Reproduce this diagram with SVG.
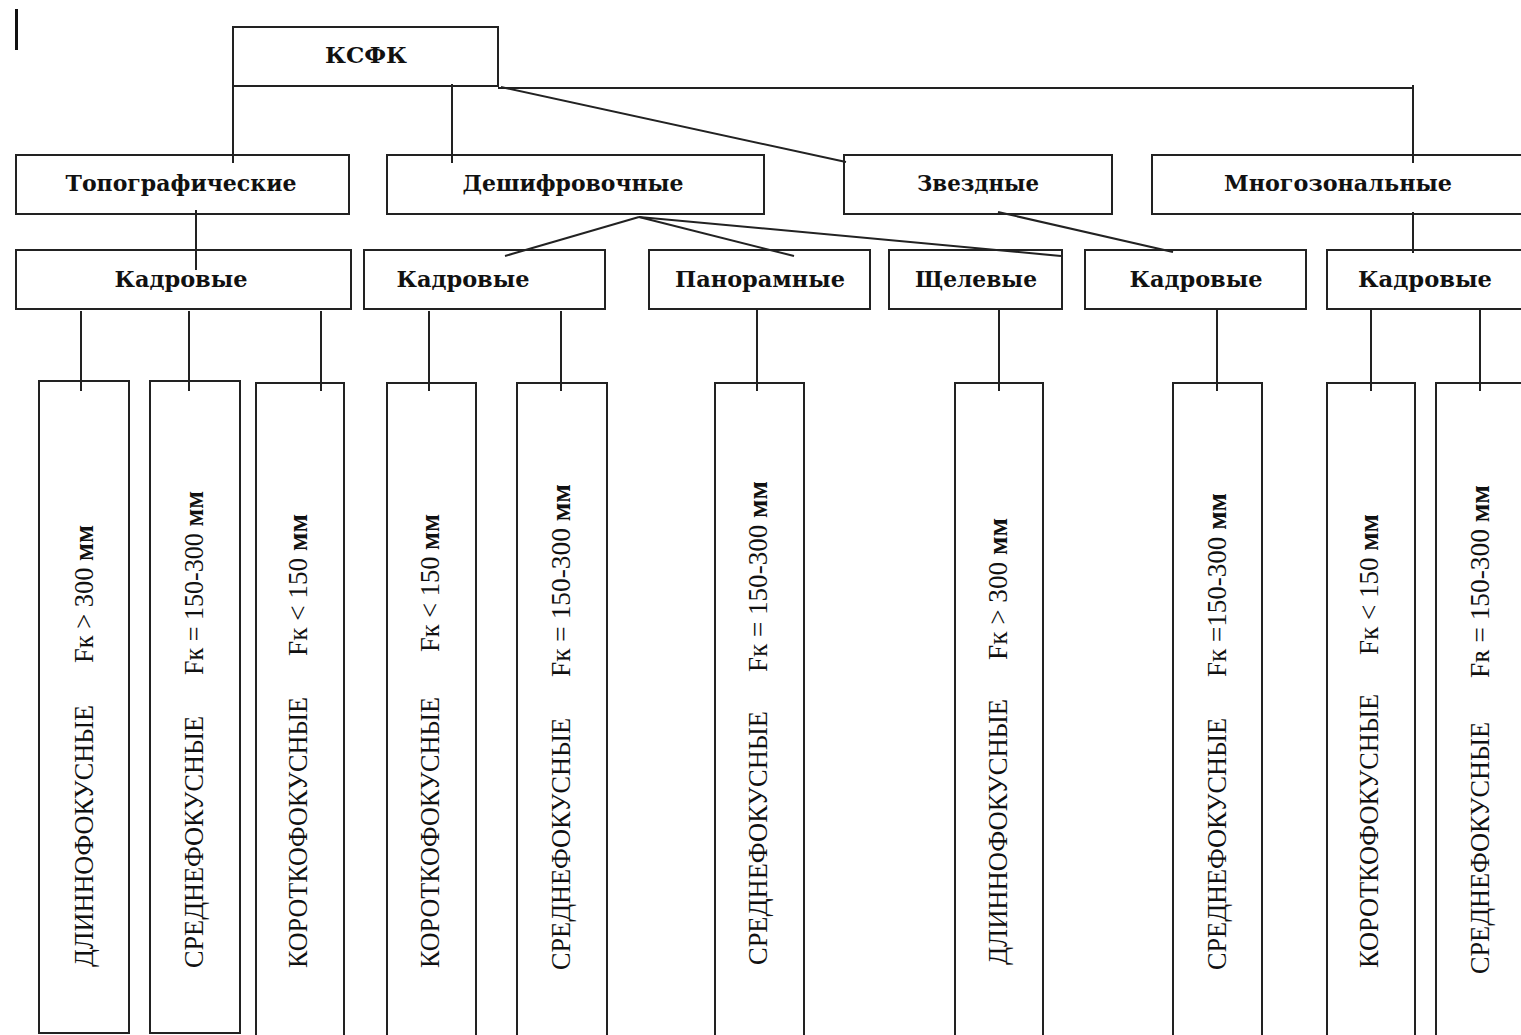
<svg xmlns="http://www.w3.org/2000/svg" width="1521" height="1035" viewBox="0 0 1521 1035">
<style>
.box{fill:#fff;stroke:#222;stroke-width:2}
.ln{stroke:#222;stroke-width:2;fill:none}
.lbl{font-family:"DejaVu Serif","Liberation Serif",serif;font-weight:bold;font-size:23px;fill:#111}
.vt{font-family:"Liberation Serif","Times New Roman",serif;font-size:28px;fill:#111}
.mm{font-weight:bold}
</style>
<rect x="15" y="9" width="3" height="41" fill="#111"/>
<g id="ksfk"><rect class="box" x="233" y="27" width="265" height="59"/><text class="lbl" x="366" y="63" text-anchor="middle" textLength="82" lengthAdjust="spacingAndGlyphs">КСФК</text></g>
<g id="topo"><rect class="box" x="16" y="155" width="333" height="59"/><text class="lbl" x="181" y="191" text-anchor="middle" textLength="231" lengthAdjust="spacingAndGlyphs">Топографические</text></g>
<g id="desh"><rect class="box" x="387" y="155" width="377" height="59"/><text class="lbl" x="573" y="191" text-anchor="middle" textLength="221" lengthAdjust="spacingAndGlyphs">Дешифровочные</text></g>
<g id="zvezd"><rect class="box" x="844" y="155" width="268" height="59"/><text class="lbl" x="978" y="191" text-anchor="middle" textLength="122" lengthAdjust="spacingAndGlyphs">Звездные</text></g>
<g id="mnogo"><rect class="box" x="1152" y="155" width="380" height="59"/><text class="lbl" x="1338" y="191" text-anchor="middle" textLength="228" lengthAdjust="spacingAndGlyphs">Многозональные</text></g>
<g id="kadr1"><rect class="box" x="16" y="250" width="335" height="59"/><text class="lbl" x="181" y="287" text-anchor="middle" textLength="133" lengthAdjust="spacingAndGlyphs">Кадровые</text></g>
<g id="kadr2"><rect class="box" x="364" y="250" width="241" height="59"/><text class="lbl" x="463" y="287" text-anchor="middle" textLength="133" lengthAdjust="spacingAndGlyphs">Кадровые</text></g>
<g id="panor"><rect class="box" x="649" y="250" width="221" height="59"/><text class="lbl" x="760" y="287" text-anchor="middle" textLength="170" lengthAdjust="spacingAndGlyphs">Панорамные</text></g>
<g id="shchel"><rect class="box" x="889" y="250" width="173" height="59"/><text class="lbl" x="976" y="287" text-anchor="middle" textLength="122" lengthAdjust="spacingAndGlyphs">Щелевые</text></g>
<g id="kadr5"><rect class="box" x="1085" y="250" width="221" height="59"/><text class="lbl" x="1196" y="287" text-anchor="middle" textLength="133" lengthAdjust="spacingAndGlyphs">Кадровые</text></g>
<g id="kadr6"><rect class="box" x="1327" y="250" width="205" height="59"/><text class="lbl" x="1425" y="287" text-anchor="middle" textLength="134" lengthAdjust="spacingAndGlyphs">Кадровые</text></g>

<g id="f1"><rect class="box" x="39" y="381" width="90" height="652"/>
<text class="vt" transform="translate(93,967) rotate(-90)" textLength="262" lengthAdjust="spacingAndGlyphs">ДЛИННОФОКУСНЫЕ</text>
<text class="vt" transform="translate(93,663) rotate(-90)" textLength="138" lengthAdjust="spacingAndGlyphs">Fк &gt; 300 <tspan class="mm">мм</tspan></text></g>
<g id="f2"><rect class="box" x="150" y="381" width="90" height="652"/>
<text class="vt" transform="translate(203,968) rotate(-90)" textLength="252" lengthAdjust="spacingAndGlyphs">СРЕДНЕФОКУСНЫЕ</text>
<text class="vt" transform="translate(203,675) rotate(-90)" textLength="184" lengthAdjust="spacingAndGlyphs">Fк = 150-300 <tspan class="mm">мм</tspan></text></g>
<g id="f3"><rect class="box" x="256" y="383" width="88" height="660"/>
<text class="vt" transform="translate(307,968) rotate(-90)" textLength="271" lengthAdjust="spacingAndGlyphs">КОРОТКОФОКУСНЫЕ</text>
<text class="vt" transform="translate(307,656) rotate(-90)" textLength="142" lengthAdjust="spacingAndGlyphs">Fк &lt; 150 <tspan class="mm">мм</tspan></text></g>
<g id="f4"><rect class="box" x="387" y="383" width="89" height="660"/>
<text class="vt" transform="translate(439,968) rotate(-90)" textLength="271" lengthAdjust="spacingAndGlyphs">КОРОТКОФОКУСНЫЕ</text>
<text class="vt" transform="translate(439,652) rotate(-90)" textLength="138" lengthAdjust="spacingAndGlyphs">Fк &lt; 150 <tspan class="mm">мм</tspan></text></g>
<g id="f5"><rect class="box" x="517" y="383" width="90" height="660"/>
<text class="vt" transform="translate(570,970) rotate(-90)" textLength="252" lengthAdjust="spacingAndGlyphs">СРЕДНЕФОКУСНЫЕ</text>
<text class="vt" transform="translate(570,677) rotate(-90)" textLength="193" lengthAdjust="spacingAndGlyphs">Fк = 150-300 <tspan class="mm">мм</tspan></text></g>
<g id="f6"><rect class="box" x="715" y="383" width="89" height="660"/>
<text class="vt" transform="translate(767,965) rotate(-90)" textLength="254" lengthAdjust="spacingAndGlyphs">СРЕДНЕФОКУСНЫЕ</text>
<text class="vt" transform="translate(767,672) rotate(-90)" textLength="191" lengthAdjust="spacingAndGlyphs">Fк = 150-300 <tspan class="mm">мм</tspan></text></g>
<g id="f7"><rect class="box" x="955" y="383" width="88" height="660"/>
<text class="vt" transform="translate(1007,965) rotate(-90)" textLength="266" lengthAdjust="spacingAndGlyphs">ДЛИННОФОКУСНЫЕ</text>
<text class="vt" transform="translate(1007,660) rotate(-90)" textLength="142" lengthAdjust="spacingAndGlyphs">Fк &gt; 300 <tspan class="mm">мм</tspan></text></g>
<g id="f8"><rect class="box" x="1173" y="383" width="89" height="660"/>
<text class="vt" transform="translate(1226,970) rotate(-90)" textLength="252" lengthAdjust="spacingAndGlyphs">СРЕДНЕФОКУСНЫЕ</text>
<text class="vt" transform="translate(1226,677) rotate(-90)" textLength="184" lengthAdjust="spacingAndGlyphs">Fк =150-300 <tspan class="mm">мм</tspan></text></g>
<g id="f9"><rect class="box" x="1327" y="383" width="88" height="660"/>
<text class="vt" transform="translate(1378,968) rotate(-90)" textLength="274" lengthAdjust="spacingAndGlyphs">КОРОТКОФОКУСНЫЕ</text>
<text class="vt" transform="translate(1378,655) rotate(-90)" textLength="141" lengthAdjust="spacingAndGlyphs">Fк &lt; 150 <tspan class="mm">мм</tspan></text></g>
<g id="f10"><rect class="box" x="1436" y="383" width="96" height="660"/>
<text class="vt" transform="translate(1489,974) rotate(-90)" textLength="252" lengthAdjust="spacingAndGlyphs">СРЕДНЕФОКУСНЫЕ</text>
<text class="vt" transform="translate(1489,678) rotate(-90)" textLength="193" lengthAdjust="spacingAndGlyphs">Fʀ = 150-300 <tspan class="mm">мм</tspan></text></g>

<g id="connectors">
<line class="ln" x1="233" y1="86" x2="233" y2="163"/>
<line class="ln" x1="452" y1="84" x2="452" y2="163"/>
<line class="ln" x1="498" y1="88" x2="1414" y2="88"/>
<line class="ln" x1="1413" y1="85" x2="1413" y2="163"/>
<line class="ln" x1="501" y1="87" x2="846" y2="162"/>
<line class="ln" x1="196" y1="210" x2="196" y2="270"/>
<line class="ln" x1="639" y1="217" x2="505" y2="256"/>
<line class="ln" x1="639" y1="217" x2="794" y2="256"/>
<line class="ln" x1="639" y1="217" x2="1061" y2="256"/>
<line class="ln" x1="998" y1="212" x2="1173" y2="252"/>
<line class="ln" x1="1413" y1="212" x2="1413" y2="253"/>
<line class="ln" x1="81" y1="311" x2="81" y2="391"/>
<line class="ln" x1="189" y1="311" x2="189" y2="391"/>
<line class="ln" x1="321" y1="311" x2="321" y2="391"/>
<line class="ln" x1="429" y1="311" x2="429" y2="391"/>
<line class="ln" x1="561" y1="311" x2="561" y2="391"/>
<line class="ln" x1="757" y1="309" x2="757" y2="391"/>
<line class="ln" x1="999" y1="309" x2="999" y2="391"/>
<line class="ln" x1="1217" y1="309" x2="1217" y2="391"/>
<line class="ln" x1="1371" y1="309" x2="1371" y2="391"/>
<line class="ln" x1="1480" y1="309" x2="1480" y2="391"/>
</g>
</svg>
